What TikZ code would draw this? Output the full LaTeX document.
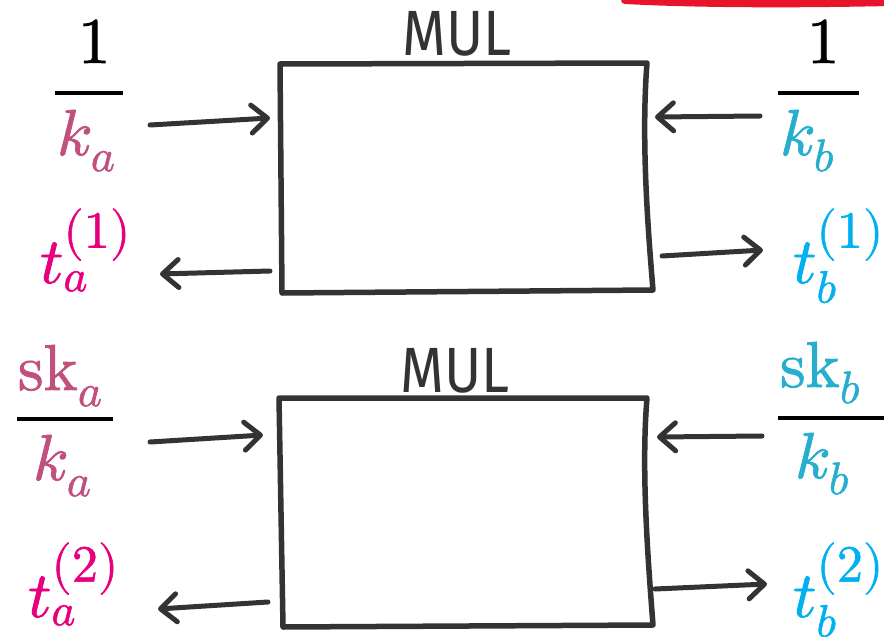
\documentclass[tikz,border=0pt]{standalone}
\usepackage{fontspec}
\usepackage{unicode-math}
\setmathfont{Latin Modern Math}[FakeBold=1.2]
\newfontfamily\mulfont{Fira Sans}
\usetikzlibrary{arrows.meta}
\definecolor{kacol}{HTML}{C0507D}
\definecolor{tacol}{HTML}{E6007E}
\definecolor{kbcol}{HTML}{27AECF}
\definecolor{tbcol}{HTML}{00B0F0}
\definecolor{ink}{HTML}{333333}
\definecolor{redmark}{HTML}{E8142B}
\newcommand{\bigsup}[1]{\scalebox{1.15}{$\scriptstyle #1$}}
\tikzset{
  lbl/.style={inner sep=0pt, outer sep=0pt, anchor=base west, font=\fontsize{65}{78}\selectfont},
  mullbl/.style={inner sep=0pt, outer sep=0pt, anchor=base, font=\mulfont\fontsize{64}{70}\selectfont, text=ink},
  boxline/.style={draw=ink, line width=5.5pt, line join=round, line cap=round},
  fracbar/.style={draw=black, line width=4pt},
  conn/.style={draw=ink, line width=5pt, line cap=round,
    -{Straight Barb[length=16pt, width=28pt, line width=5pt, line cap=round, line join=round]}},
}
\begin{document}
\begin{tikzpicture}[x=1pt, y=-1pt]
\useasboundingbox (0,0) rectangle (884,637);
% red mark at top
\draw[redmark, line width=8pt, line cap=round] (625,0) .. controls (700,4) and (800,4) .. (890,2);

% ---------- top unit ----------
\draw[boxline] (280,64) -- (647,63) .. controls (641,140) and (648,230) .. (653,290) -- (282,293) -- cycle;
\node[mullbl] (mul1) at (457,55) {\scalebox{0.88}[1]{MUL}};

\node[lbl] (na1) at (78,63) {$1$};
\draw[fracbar] (55,93) -- (123,93);
\node[lbl] (ka1) at (57,155) {$\textcolor{kacol}{k_a}$};

\node[lbl] (nb1) at (807,63) {$1$};
\draw[fracbar] (778,93) -- (859,93);
\node[lbl] (kb1) at (780,155) {$\textcolor{kbcol}{k_b}$};

\node[lbl] (ta1) at (40,283) {$\textcolor{tacol}{t_a^{\bigsup{(1)}}}$};
\node[lbl] (tb1) at (793,283) {$\textcolor{tbcol}{t_b^{\bigsup{(1)}}}$};

\coordinate (a1s) at (150,125); \coordinate (a1e) at (270,118);
\coordinate (a2s) at (270,271); \coordinate (a2e) at (160,274);
\coordinate (a3s) at (760,116); \coordinate (a3e) at (655,117);
\coordinate (a4s) at (662,256); \coordinate (a4e) at (763,250);
\draw[conn] (a1s) -- (a1e);
\draw[conn] (a2s) -- (a2e);
\draw[conn] (a3s) -- (a3e);
\draw[conn] (a4s) -- (a4e);

% ---------- bottom unit ----------
\draw[boxline] (279,398) -- (647,398) .. controls (641,470) and (648,560) .. (653,625) -- (283,627) -- cycle;
\node[mullbl] (mul2) at (455,392) {\scalebox{0.88}[1]{MUL}};

\node[lbl] (na2) at (18,390) {$\textcolor{kacol}{\symup{sk}_a}$};
\draw[fracbar] (17,419) -- (113,419);
\node[lbl] (ka2) at (33,480) {$\textcolor{kacol}{k_a}$};

\node[lbl] (nb2) at (780,387) {$\textcolor{kbcol}{\symup{sk}_b}$};
\draw[fracbar] (778,418) -- (884,418);
\node[lbl] (kb2) at (795,478) {$\textcolor{kbcol}{k_b}$};

\node[lbl] (ta2) at (28,617) {$\textcolor{tacol}{t_a^{\bigsup{(2)}}}$};
\node[lbl] (tb2) at (793,617) {$\textcolor{tbcol}{t_b^{\bigsup{(2)}}}$};

\coordinate (b1s) at (150,442); \coordinate (b1e) at (263,435);
\coordinate (b2s) at (268,602); \coordinate (b2e) at (158,609);
\coordinate (b3s) at (762,436); \coordinate (b3e) at (657,437);
\coordinate (b4s) at (655,589); \coordinate (b4e) at (767,584);
\draw[conn] (b1s) -- (b1e);
\draw[conn] (b2s) -- (b2e);
\draw[conn] (b3s) -- (b3e);
\draw[conn] (b4s) -- (b4e);
\end{tikzpicture}
\end{document}
